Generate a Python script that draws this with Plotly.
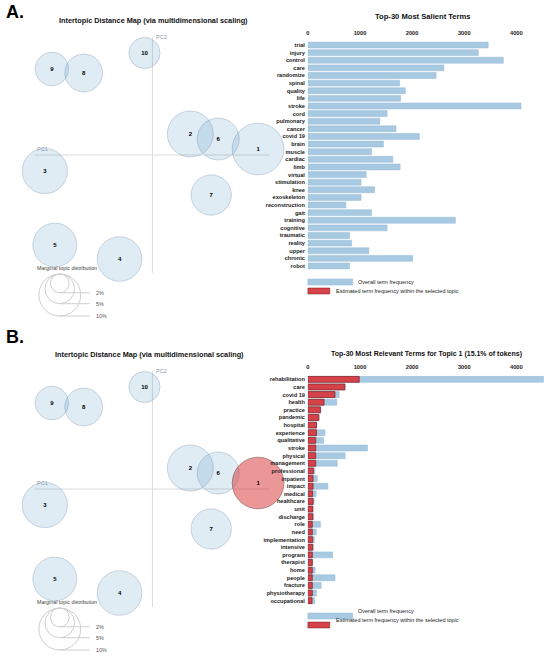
import numpy as np
import plotly.graph_objects as go

W, H = 550, 656
FONT = "Liberation Sans, Arial, sans-serif"

# ---- intertopic distance map (same layout in both panels) ----
topics = ["1", "2", "3", "4", "5", "6", "7", "8", "9", "10"]
pc1 = [0.212, 0.076, -0.216, -0.066, -0.196, 0.132, 0.118, -0.138, -0.202, -0.016]
pc2 = [0.012, 0.042, -0.032, -0.208, -0.180, 0.032, -0.080, 0.164, 0.172, 0.204]
topic_share = [15.1, 12.0, 11.6, 11.3, 10.9, 10.0, 9.2, 8.1, 6.3, 5.5]  # % of tokens
marginal_legend = [2, 5, 10]
selected_topic = "1"

# ---- Top-30 most salient terms (panel A) ----
salient_terms = ["trial", "injury", "control", "care", "randomize", "spinal", "quality", "life",
                 "stroke", "cord", "pulmonary", "cancer", "covid 19", "brain", "muscle", "cardiac",
                 "limb", "virtual", "stimulation", "knee", "exoskeleton", "reconstruction", "gait",
                 "training", "cognitive", "traumatic", "reality", "upper", "chronic", "robot"]
salient_overall = [3460, 3270, 3750, 2610, 2460, 1760, 1870, 1780, 4090, 1520, 1380, 1690,
                   2140, 1450, 1220, 1630, 1770, 1120, 1020, 1280, 1020, 730, 1220, 2830,
                   1520, 800, 840, 1170, 2010, 800]

# ---- Top-30 most relevant terms for topic 1 (panel B) ----
relevant_terms = ["rehabilitation", "care", "covid 19", "health", "practice", "pandemic", "hospital",
                  "experience", "qualitative", "stroke", "physical", "management", "professional",
                  "inpatient", "impact", "medical", "healthcare", "unit", "discharge", "role", "need",
                  "implementation", "intensive", "program", "therapist", "home", "people", "fracture",
                  "physiotherapy", "occupational"]
relevant_overall = [4520, 715, 600, 555, 250, 215, 170, 330, 300, 1145, 715, 565, 135, 180, 385,
                    160, 120, 95, 110, 240, 160, 125, 110, 475, 90, 140, 520, 255, 165, 130]
relevant_topic = [985, 710, 520, 310, 240, 210, 165, 165, 150, 150, 150, 150, 105, 100, 100,
                  90, 100, 95, 95, 85, 85, 90, 90, 85, 85, 85, 85, 85, 85, 80]

x_ticks = [0, 1000, 2000, 3000, 4000]

BLUE_FILL = "rgba(31,119,180,0.2)"
BLUE_LINE = "rgba(60,100,140,0.35)"
RED_FILL = "rgba(214,39,40,0.68)"
RED_LINE = "rgba(90,20,20,0.6)"
BAR_BLUE = "#a8c9e2"
BAR_RED = "#d6424a"

R10 = 21  # px radius of a 10% circle
PX_PER_UNIT = 500


def rad_px(share):
    return R10 * np.sqrt(np.asarray(share, dtype=float) / 10)


def paper_x(px):
    return px / W


def paper_y(py):
    return 1 - py / H


fig = go.Figure()
shapes = []
annotations = []


def add_map(xa, ya, highlight):
    xs = np.array(pc1)
    ys = np.array(pc2)
    sizes = 2 * rad_px(topic_share)
    idx = [i for i, t in enumerate(topics) if not (highlight and t == selected_topic)]
    fig.add_trace(go.Scatter(
        x=xs[idx], y=ys[idx], text=[topics[i] for i in idx],
        mode="markers+text", xaxis=xa, yaxis=ya, cliponaxis=False,
        marker=dict(size=sizes[idx], color=BLUE_FILL, line=dict(color=BLUE_LINE, width=1)),
        textfont=dict(size=6, color="black", family=FONT, weight="bold"),
        hoverinfo="text", showlegend=False
    ))
    if highlight:
        k = topics.index(selected_topic)
        fig.add_trace(go.Scatter(
            x=[xs[k]], y=[ys[k]], text=[topics[k]], mode="markers+text",
            xaxis=xa, yaxis=ya, cliponaxis=False,
            marker=dict(size=[sizes[k]], color=RED_FILL, line=dict(color=RED_LINE, width=1)),
            textfont=dict(size=6, color="black", family=FONT, weight="bold"),
            hoverinfo="text", showlegend=False
        ))

    xr, yr = xa, ya
    ext = 0.236
    # PC axes
    shapes.append(dict(type="line", xref=xr, yref=yr, x0=-ext, x1=ext - 0.002, y0=0, y1=0,
                       line=dict(color="#dcdcdc", width=1), layer="below"))
    shapes.append(dict(type="line", xref=xr, yref=yr, x0=0, x1=0, y0=-ext, y1=ext,
                       line=dict(color="#dcdcdc", width=1), layer="below"))
    annotations.append(dict(text="PC1", xref=xr, yref=yr, x=-ext, y=0.002, xanchor="left",
                            yanchor="bottom", showarrow=False,
                            font=dict(size=5.5, color="#8a9aaa", family=FONT)))
    annotations.append(dict(text="PC2", xref=xr, yref=yr, x=0.003, y=ext, xanchor="left",
                            yanchor="middle", showarrow=False,
                            font=dict(size=5.5, color="#8a9aaa", family=FONT)))

    # marginal topic distribution legend
    cx, top = -0.186, -0.238
    annotations.append(dict(text="Marginal topic distribution", xref=xr, yref=yr, x=-0.172,
                            y=-0.226, showarrow=False,
                            font=dict(size=5.3, color="#444", family=FONT)))
    for p in marginal_legend:
        r = rad_px(p) / PX_PER_UNIT
        shapes.append(dict(type="circle", xref=xr, yref=yr, x0=cx - r, x1=cx + r,
                           y0=top - 2 * r, y1=top, line=dict(color="#cfcfcf", width=1)))
        shapes.append(dict(type="line", xref=xr, yref=yr, x0=cx, x1=-0.126,
                           y0=top - 2 * r, y1=top - 2 * r, line=dict(color="#cfcfcf", width=1)))
        annotations.append(dict(text=f"{p}%", xref=xr, yref=yr, x=-0.118, y=top - 2 * r,
                                xanchor="left", showarrow=False,
                                font=dict(size=5.3, color="#555", family=FONT)))


add_map("x", "y", False)
add_map("x3", "y3", True)

# bar panels
fig.add_trace(go.Bar(
    y=salient_terms, x=salient_overall, orientation="h", xaxis="x2", yaxis="y2",
    marker=dict(color=BAR_BLUE, line=dict(color="#97bbd6", width=0.5)),
    name="Overall term frequency", showlegend=False
))
fig.add_trace(go.Bar(
    y=relevant_terms, x=relevant_overall, orientation="h", xaxis="x4", yaxis="y4",
    marker=dict(color=BAR_BLUE, line=dict(color="#97bbd6", width=0.5)),
    name="Overall term frequency", showlegend=False
))
fig.add_trace(go.Bar(
    y=relevant_terms, x=relevant_topic, orientation="h", xaxis="x4", yaxis="y4",
    marker=dict(color=BAR_RED, line=dict(color="#7a1f22", width=0.7)),
    name="Estimated term frequency within the selected topic", showlegend=False
))

map_axis = dict(visible=False, showgrid=False, zeroline=False)
bar_x = dict(range=[0, 4550], side="top", tickvals=x_ticks, showgrid=False, zeroline=False,
             showline=False, ticks="", fixedrange=True, ticklabelstandoff=4,
             tickfont=dict(size=5.7, color="#222", family=FONT, weight="bold"))
bar_y = dict(type="category", autorange="reversed", showgrid=False, zeroline=False,
             ticks="", ticklabelstandoff=2,
             tickfont=dict(size=5.6, color="#222", family=FONT, weight="bold"))

fig.update_layout(
    width=W, height=H,
    margin=dict(l=0, r=0, t=0, b=0),
    plot_bgcolor="white", paper_bgcolor="white",
    barmode="overlay", bargap=0.22, showlegend=False,
    font=dict(family=FONT),
    xaxis=dict(domain=[0, paper_x(300)], range=[-0.302, 0.298], anchor="y", **map_axis),
    yaxis=dict(domain=[paper_y(330), paper_y(30)], range=[-0.35, 0.25], anchor="x", **map_axis),
    xaxis3=dict(domain=[0, paper_x(300)], range=[-0.302, 0.298], anchor="y3", **map_axis),
    yaxis3=dict(domain=[0, paper_y(364)], range=[-0.334, 0.25], anchor="x3", **map_axis),
    xaxis2=dict(domain=[paper_x(307), paper_x(545)], anchor="y2", **bar_x),
    yaxis2=dict(domain=[paper_y(269.8), paper_y(41.2)], anchor="x2", **bar_y),
    xaxis4=dict(domain=[paper_x(307), paper_x(545)], anchor="y4", **bar_x),
    yaxis4=dict(domain=[paper_y(604.5), paper_y(375.5)], anchor="x4", **bar_y),
)

# titles and panel letters
for txt, x, y in [("A.", 2, 12), ("B.", 2, 337)]:
    annotations.append(dict(text=f"<b>{txt}</b>", xref="paper", yref="paper", x=paper_x(x),
                            y=paper_y(y), xanchor="left", yanchor="middle", showarrow=False,
                            font=dict(size=18, color="black", family=FONT)))
for txt, x, y, size in [
    ("Intertopic Distance Map (via multidimensional scaling)", 152, 21, 7.3),
    ("Intertopic Distance Map (via multidimensional scaling)", 148, 354, 7.3),
    ("Top-30 Most Salient Terms", 423, 17, 7.6),
    ("Top-30 Most Relevant Terms for Topic 1 (15.1% of tokens)", 426, 354, 7),
]:
    annotations.append(dict(text=f"<b>{txt}</b>", xref="paper", yref="paper", x=paper_x(x),
                            y=paper_y(y), xanchor="center", yanchor="middle", showarrow=False,
                            font=dict(size=size, color="#111", family=FONT)))

# bar legends
for base in [282, 616]:
    shapes.append(dict(type="rect", xref="paper", yref="paper", x0=paper_x(307), x1=paper_x(352),
                       y0=paper_y(base + 3), y1=paper_y(base - 3),
                       fillcolor=BAR_BLUE, line=dict(color="#97bbd6", width=0.5)))
    shapes.append(dict(type="rect", xref="paper", yref="paper", x0=paper_x(307), x1=paper_x(329),
                       y0=paper_y(base + 12), y1=paper_y(base + 6),
                       fillcolor=BAR_RED, line=dict(color="#7a1f22", width=0.5)))
    annotations.append(dict(text="Overall term frequency", xref="paper", yref="paper",
                            x=paper_x(355), y=paper_y(base), xanchor="left", showarrow=False,
                            font=dict(size=5.5, color="#222", family=FONT)))
    annotations.append(dict(text="Estimated term frequency within the selected topic",
                            xref="paper", yref="paper", x=paper_x(333), y=paper_y(base + 9),
                            xanchor="left", showarrow=False,
                            font=dict(size=5.5, color="#222", family=FONT)))

fig.update_layout(shapes=shapes, annotations=annotations)

# drop the default page margin so the 550x656 figure fills the window exactly
fig.write_html("out.html", config={"displayModeBar": False},
               post_script="document.body.style.margin='0';")
